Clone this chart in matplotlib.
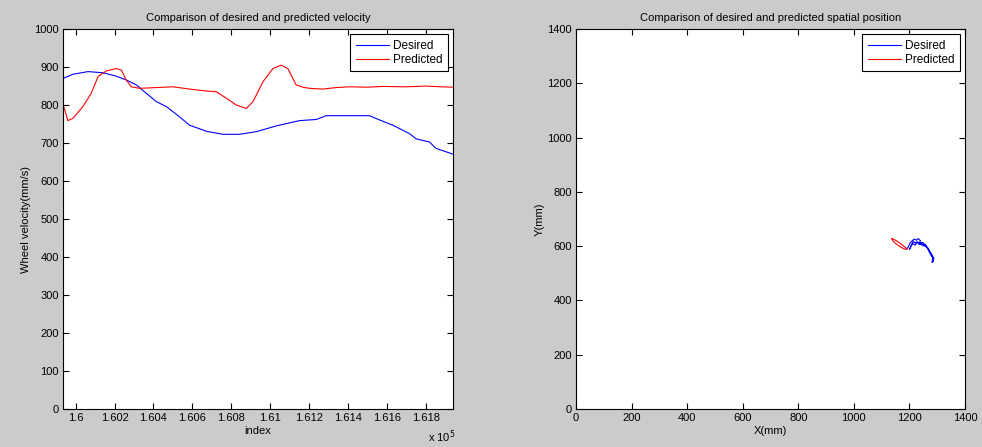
import matplotlib.pyplot as plt
from matplotlib.ticker import FuncFormatter

plt.rcParams['font.family'] = ['Liberation Sans', 'DejaVu Sans']
plt.rcParams['font.size'] = 8

# velocity over sample index
vel_idx_des = [159935, 159986, 160063, 160141, 160209, 160260, 160312, 160363, 160415,
               160466, 160517, 160586, 160672, 160757, 160843, 160929, 161031, 161151,
               161237, 161288, 161408, 161511, 161562, 161631, 161716, 161751, 161819,
               161853, 161939]
vel_des = [870, 881, 888, 885, 876, 866, 853, 831, 809, 796, 776, 747, 731, 723, 723,
           730, 745, 759, 762, 772, 772, 772, 761, 747, 725, 711, 703, 686, 671]

vel_idx_pred = [159935, 159938, 159960, 159986, 160037, 160080, 160115, 160158, 160209,
                160235, 160260, 160286, 160329, 160415, 160500, 160586, 160672, 160723,
                160775, 160826, 160878, 160912, 160963, 161014, 161057, 161091, 161134,
                161168, 161202, 161271, 161340, 161408, 161500, 161580, 161700, 161800,
                161880, 161939]
vel_pred = [818, 797, 759, 765, 796, 831, 875, 890, 896, 892, 866, 848, 844, 846, 848,
            842, 837, 835, 818, 800, 791, 809, 861, 896, 905, 896, 853, 847, 844, 842,
            846, 848, 847, 849, 848, 850, 848, 847]

# spatial position (mm)
pos_x_des = [1192, 1198, 1203, 1210, 1218, 1226, 1232, 1240, 1236, 1248, 1256, 1262,
             1268, 1272, 1278, 1283, 1286, 1282, 1284, 1276, 1270, 1264, 1258, 1250,
             1244, 1236, 1228, 1220, 1214, 1208, 1204, 1200, 1206, 1212, 1220, 1228,
             1236, 1244, 1252, 1258, 1266, 1272, 1278, 1282, 1288, 1286]
pos_y_des = [590, 602, 612, 620, 626, 622, 628, 620, 612, 614, 606, 598, 592, 580, 572,
             560, 548, 540, 558, 570, 584, 594, 600, 608, 604, 612, 616, 612, 618, 606,
             596, 588, 600, 610, 604, 614, 606, 610, 600, 604, 592, 584, 574, 566, 556,
             544]
pos_x_pred = [1136, 1150, 1165, 1180, 1192, 1185, 1170, 1155, 1142, 1138]
pos_y_pred = [628, 622, 612, 600, 590, 588, 596, 606, 618, 625]

fig = plt.figure(figsize=(9.82, 4.47), dpi=100, facecolor='#cbcbcb')
ax1 = fig.add_axes([0.0642, 0.085, 0.397, 0.850])
ax2 = fig.add_axes([0.5866, 0.085, 0.396, 0.850])

for ax in (ax1, ax2):
    ax.tick_params(direction='in', top=True, right=True, length=4, width=0.8, pad=3)
    for s in ax.spines.values():
        s.set_linewidth(0.8)

legend_kw = dict(loc='upper right', fancybox=False, framealpha=1, edgecolor='black',
                 handlelength=2.8, handletextpad=0.35, borderpad=0.45, labelspacing=0.2,
                 borderaxespad=0.45, fontsize=8.5)

ax1.plot(vel_idx_des, vel_des, color='blue', lw=0.8, label='Desired')
ax1.plot(vel_idx_pred, vel_pred, color='red', lw=0.8, label='Predicted')
ax1.set_xlim(159935, 161940)
ax1.set_ylim(0, 1000)
ax1.set_xticks(range(160000, 161801, 200))
ax1.set_yticks(range(0, 1001, 100))
ax1.xaxis.set_major_formatter(FuncFormatter(lambda v, p: f'{v / 1e5:g}'))
ax1.set_title('Comparison of desired and predicted velocity', fontsize=8, pad=6)
ax1.set_xlabel('index', labelpad=2)
ax1.set_ylabel('Wheel velocity(mm/s)', labelpad=2)
ax1.text(0.936, -0.074, r'x 10$^5$', transform=ax1.transAxes, fontsize=8, va='center')
leg1 = ax1.legend(**legend_kw)
leg1.get_frame().set_linewidth(0.8)

ax2.plot(pos_x_des, pos_y_des, color='blue', lw=0.8, label='Desired')
ax2.plot(pos_x_pred, pos_y_pred, color='red', lw=0.8, label='Predicted')
ax2.set_xlim(0, 1400)
ax2.set_ylim(0, 1400)
ax2.set_xticks(range(0, 1401, 200))
ax2.set_yticks(range(0, 1401, 200))
ax2.set_title('Comparison of desired and predicted spatial position', fontsize=8, pad=6)
ax2.set_xlabel('X(mm)', labelpad=2)
ax2.set_ylabel('Y(mm)', labelpad=2)
leg2 = ax2.legend(**legend_kw)
leg2.get_frame().set_linewidth(0.8)

fig.savefig('out.png', dpi=100, facecolor=fig.get_facecolor())
